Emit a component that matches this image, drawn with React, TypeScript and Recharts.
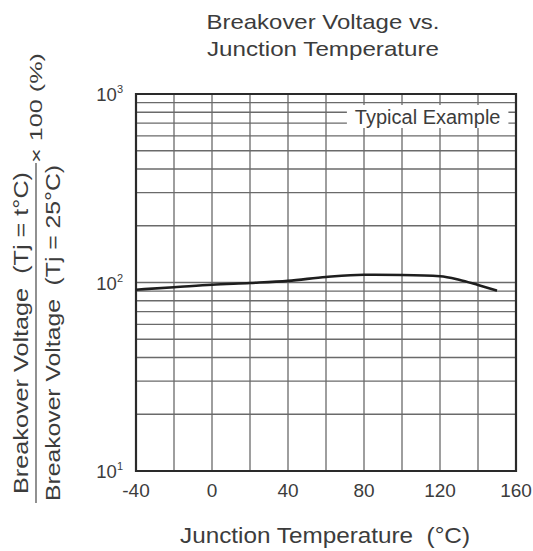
import { CartesianGrid, Line, LineChart, ReferenceArea, XAxis, YAxis } from 'recharts'

const temperatures = [-40, -20, 0, 20, 40, 60, 80, 100, 120, 130, 140, 150]
const breakoverPct = [91.6, 94.3, 97.3, 99.4, 102, 107, 110, 109.6, 108, 103.5, 97, 90.5]

const xTicks = [-40, -20, 0, 20, 40, 60, 80, 100, 120, 140, 160]
const xLabelTicks = [-40, 0, 40, 80, 120, 160]
const yTicks = [
  10, 20, 30, 40, 50, 60, 70, 80, 90, 100, 200, 300, 400, 500, 600, 700, 800, 900, 1000,
]
const yDecades = [10, 100, 1000]

const data = temperatures.map((t, i) => ({ t, v: breakoverPct[i] }))

const FONT = '"Liberation Sans", Arial, Helvetica, sans-serif'
const INK = '#3c3c3c'

const XTick = ({ x, y, payload }: any) => {
  if (!xLabelTicks.includes(payload.value)) return <g />
  return (
    <text x={x} y={y} dy={18} textAnchor="middle" fontFamily={FONT} fontSize={19} fill={INK}>
      {payload.value}
    </text>
  )
}

const YTick = ({ x, y, payload }: any) => {
  if (!yDecades.includes(payload.value)) return <g />
  const exp = Math.round(Math.log10(payload.value))
  return (
    <text x={x - 5} y={y} dy={7} textAnchor="end" fontFamily={FONT} fontSize={18.5} fill={INK}>
      10
      <tspan dy={-8} fontSize={11}>
        {exp}
      </tspan>
    </text>
  )
}

export default function App() {
  return (
    <div style={{ position: 'absolute', left: 0, top: 0, width: 533, height: 551, background: '#fff' }}>
      <LineChart
        width={533}
        height={551}
        data={data}
        margin={{ top: 94, right: 17, bottom: 50, left: 0 }}
      >
        <CartesianGrid stroke="#6a6a6a" strokeWidth={1.3} />
        <XAxis
          dataKey="t"
          type="number"
          domain={[-40, 160]}
          ticks={xTicks}
          interval={0}
          tickLine={false}
          axisLine={false}
          height={30}
          tick={<XTick />}
        />
        <YAxis
          type="number"
          scale="log"
          domain={[10, 1000]}
          ticks={yTicks}
          interval={0}
          allowDataOverflow
          tickLine={false}
          axisLine={false}
          width={136}
          tick={<YTick />}
        />
        <ReferenceArea
          x1={71}
          x2={156}
          y1={660}
          y2={874}
          fill="#fff"
          fillOpacity={1}
          stroke="none"
          label={{ value: 'Typical Example', position: 'center', fill: INK, fontSize: 20, fontFamily: FONT }}
        />
        <ReferenceArea
          x1={-40}
          x2={160}
          y1={10}
          y2={1000}
          fill="none"
          stroke="#2a2a2a"
          strokeWidth={2.2}
        />
        <Line
          type="monotone"
          dataKey="v"
          stroke="#1e1e1e"
          strokeWidth={2.6}
          dot={false}
          isAnimationActive={false}
        />
      </LineChart>
      <svg
        width={533}
        height={551}
        style={{ position: 'absolute', left: 0, top: 0, pointerEvents: 'none' }}
        fontFamily={FONT}
        fill={INK}
      >
        <text x={323} y={29} textAnchor="middle" fontSize={21} textLength={233} lengthAdjust="spacingAndGlyphs">
          Breakover Voltage vs.
        </text>
        <text x={323} y={56} textAnchor="middle" fontSize={21} textLength={232} lengthAdjust="spacingAndGlyphs">
          Junction Temperature
        </text>
        <text
          x={325}
          y={543}
          textAnchor="middle"
          fontSize={22}
          textLength={290}
          lengthAdjust="spacingAndGlyphs"
          style={{ whiteSpace: 'pre' }}
        >
          Junction Temperature  (°C)
        </text>
        <g transform="translate(28, 333) rotate(-90)">
          <text
            textAnchor="middle"
            fontSize={20}
            textLength={322}
            lengthAdjust="spacingAndGlyphs"
            style={{ whiteSpace: 'pre' }}
          >
            Breakover Voltage  (Tj = t°C)
          </text>
        </g>
        <line x1={36} y1={163} x2={36} y2={503} stroke="#555" strokeWidth={1.3} />
        <g transform="translate(60, 333) rotate(-90)">
          <text
            textAnchor="middle"
            fontSize={20}
            textLength={336}
            lengthAdjust="spacingAndGlyphs"
            style={{ whiteSpace: 'pre' }}
          >
            Breakover Voltage  (Tj = 25°C)
          </text>
        </g>
        <g transform="translate(42, 108) rotate(-90)">
          <text
            textAnchor="middle"
            fontSize={17}
            textLength={110}
            lengthAdjust="spacingAndGlyphs"
            style={{ whiteSpace: 'pre' }}
          >
            × 100 (%)
          </text>
        </g>
      </svg>
    </div>
  )
}
